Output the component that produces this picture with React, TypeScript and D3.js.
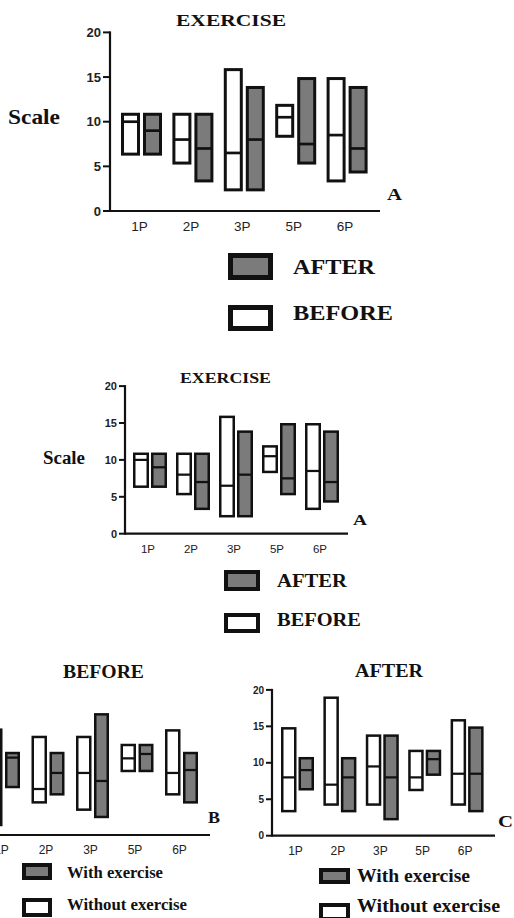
import React from "react";
import * as d3 from "d3";

// ---------- data ----------
const categories = ["1P", "2P", "3P", "5P", "6P"];
const yTickValues = [0, 5, 10, 15, 20];

// Panel A (shown twice): exercise group, before vs after
const exBeforeLow = [6.2, 5.2, 2.2, 8.2, 3.2];
const exBeforeHigh = [11, 11, 16, 12, 15];
const exBeforeMed = [10, 8, 6.5, 10.5, 8.5];
const exAfterLow = [6.2, 3.2, 2.2, 5.2, 4.2];
const exAfterHigh = [11, 11, 14, 15, 14];
const exAfterMed = [9, 7, 8, 7.5, 7];

// Panel B: BEFORE — without exercise (white) vs with exercise (grey)
const bWithoutLow = [1.2, 4.3, 3.3, 8.6, 5.4];
const bWithoutHigh = [14.6, 13.6, 13.6, 12.5, 14.5];
const bWithoutMed = [8.5, 6.3, 8.5, 10.5, 8.5];
const bWithLow = [6.4, 5.4, 2.3, 8.6, 4.3];
const bWithHigh = [11.4, 11.4, 16.7, 12.5, 11.4];
const bWithMed = [10.6, 8.5, 7.4, 11.1, 8.9];

// Panel C: AFTER — without exercise (white) vs with exercise (grey)
const cWithoutLow = [3.2, 4.1, 4.1, 6.1, 4.1];
const cWithoutHigh = [14.9, 19.1, 13.9, 11.8, 16];
const cWithoutMed = [8, 7, 9.5, 8, 8.5];
const cWithLow = [6.2, 3.2, 2.1, 8.2, 3.2];
const cWithHigh = [10.8, 10.8, 13.9, 11.8, 15];
const cWithMed = [9, 8, 8, 10.5, 8.5];

const GREY = "#7b7b7b";
const INK = "#111";
const SERIF = "'Liberation Serif', 'Times New Roman', serif";
const SANS = "'Liberation Sans', Arial, sans-serif";

type Series = { low: number[]; high: number[]; med: number[]; fill: string; off: [number, number] };

type PanelProps = {
  axisX: number;
  zeroY: number;
  unit: number;
  xEnd: number;
  firstC: number;
  step: number;
  sw: number;
  tickFont: number;
  catFont: number;
  catBaseline: number;
  tickLen: number;
  showY: boolean;
  series: Series[];
};

function Panel(p: PanelProps) {
  const y = d3.scaleLinear().domain([0, 20]).range([p.zeroY, p.zeroY - 20 * p.unit]);
  const x = d3
    .scalePoint<string>()
    .domain(categories)
    .range([p.firstC, p.firstC + p.step * (categories.length - 1)]);
  const h = p.sw / 2;
  return (
    <g>
      {p.showY && (
        <g>
          <line x1={p.axisX} x2={p.axisX} y1={y(0) + 1} y2={y(20) - 1} stroke={INK} strokeWidth={2.2} />
          {yTickValues.map((t) => (
            <g key={t}>
              <line x1={p.axisX - p.tickLen} x2={p.axisX} y1={y(t)} y2={y(t)} stroke={INK} strokeWidth={2} />
              <text
                x={p.axisX - p.tickLen - 2}
                y={y(t)}
                dy="0.36em"
                textAnchor="end"
                fontFamily={SANS}
                fontWeight="bold"
                fontSize={p.tickFont}
                fill="#222"
              >
                {t}
              </text>
            </g>
          ))}
        </g>
      )}
      {/* x axis */}
      <line x1={Math.max(p.axisX, 0)} x2={p.xEnd} y1={y(0)} y2={y(0)} stroke={INK} strokeWidth={2.2} />
      {categories.map((c) => (
        <text
          key={c}
          x={x(c)! - 2}
          y={p.catBaseline}
          textAnchor="middle"
          fontFamily={SANS}
          fontSize={p.catFont}
          fill="#222"
        >
          {c}
        </text>
      ))}
      {/* boxes */}
      {p.series.map((s, si) =>
        categories.map((c, i) => {
          const cx = x(c)!;
          const L = cx + s.off[0];
          const R = cx + s.off[1];
          const top = y(s.high[i]);
          const bot = y(s.low[i]);
          return (
            <g key={si + "-" + c}>
              <rect
                x={L + h}
                y={top + h}
                width={R - L - p.sw}
                height={bot - top - p.sw}
                fill={s.fill}
                stroke={INK}
                strokeWidth={p.sw}
              />
              <line x1={L + h} x2={R - h} y1={y(s.med[i])} y2={y(s.med[i])} stroke={INK} strokeWidth={p.sw * 0.9} />
            </g>
          );
        })
      )}
    </g>
  );
}

function T(props: {
  x: number;
  y: number;
  w?: number;
  size: number;
  children: React.ReactNode;
}) {
  return (
    <text
      x={props.x}
      y={props.y}
      fontFamily={SERIF}
      fontWeight="bold"
      fontSize={props.size}
      fill="#111"
      textLength={props.w}
      lengthAdjust={props.w ? "spacingAndGlyphs" : undefined}
    >
      {props.children}
    </text>
  );
}

function Box(props: { x0: number; x1: number; y0: number; y1: number; sw: number; fill: string }) {
  const h = props.sw / 2;
  return (
    <rect
      x={props.x0 + h}
      y={props.y0 + h}
      width={props.x1 - props.x0 - props.sw}
      height={props.y1 - props.y0 - props.sw}
      fill={props.fill}
      stroke={INK}
      strokeWidth={props.sw}
    />
  );
}

export default function App() {
  const exSeries = (off1: [number, number], off2: [number, number]): Series[] => [
    { low: exBeforeLow, high: exBeforeHigh, med: exBeforeMed, fill: "#fff", off: off1 },
    { low: exAfterLow, high: exAfterHigh, med: exAfterMed, fill: GREY, off: off2 },
  ];
  return (
    <svg
      width={514}
      height={918}
      viewBox="0 0 514 918"
      style={{ position: "absolute", left: 0, top: 0, background: "#fff", overflow: "hidden" }}
    >
      <rect x={0} y={0} width={514} height={918} fill="#fff" />

      {/* ===== Panel A (large) ===== */}
      <T x={176} y={26} w={110} size={17}>EXERCISE</T>
      <T x={8} y={124} w={52} size={21}>Scale</T>
      <T x={387} y={200} w={15} size={16}>A</T>
      <Panel
        axisX={110}
        zeroY={211}
        unit={8.93}
        xEnd={380}
        firstC={141.5}
        step={51.4}
        sw={3}
        tickFont={13}
        catFont={13.5}
        catBaseline={231}
        tickLen={7}
        showY={true}
        series={exSeries([-20.5, -1.5], [1.5, 20.5])}
      />
      <Box x0={228} x1={273} y0={253} y1={280} sw={5} fill={GREY} />
      <T x={293} y={274} w={82} size={22}>AFTER</T>
      <Box x0={228} x1={273} y0={305} y1={331} sw={5} fill="#fff" />
      <T x={293} y={320} w={100} size={22}>BEFORE</T>

      {/* ===== Panel A (small copy) ===== */}
      <T x={180} y={383} w={91} size={14.5}>EXERCISE</T>
      <T x={43} y={464} w={42} size={18}>Scale</T>
      <T x={353} y={525} w={14} size={15}>A</T>
      <Panel
        axisX={125}
        zeroY={533.7}
        unit={7.38}
        xEnd={348}
        firstC={150}
        step={43}
        sw={2.5}
        tickFont={11}
        catFont={11.5}
        catBaseline={553}
        tickLen={6}
        showY={true}
        series={exSeries([-17, -1], [1, 17])}
      />
      <Box x0={224} x1={260} y0={570} y1={591} sw={4} fill={GREY} />
      <T x={277} y={587} w={70} size={19}>AFTER</T>
      <Box x0={224} x1={260} y0={613} y1={633} sw={4} fill="#fff" />
      <T x={277} y={626} w={84} size={19}>BEFORE</T>

      {/* ===== Panel B (cropped at left; its y axis lies outside the frame) ===== */}
      <T x={63} y={678} w={81} size={18.5}>BEFORE</T>
      <T x={208} y={823} w={12} size={17}>B</T>
      <Panel
        axisX={-23}
        zeroY={835}
        unit={7.3}
        xEnd={210}
        firstC={3.5}
        step={44.5}
        sw={2.5}
        tickFont={10}
        catFont={12}
        catBaseline={854}
        tickLen={6}
        showY={false}
        series={[
          { low: bWithoutLow, high: bWithoutHigh, med: bWithoutMed, fill: "#fff", off: [-16.5, -1] },
          { low: bWithLow, high: bWithHigh, med: bWithMed, fill: GREY, off: [1.5, 16.5] },
        ]}
      />
      <Box x0={22} x1={52} y0={863} y1={880} sw={4} fill={GREY} />
      <T x={67} y={878} w={96} size={17}>With exercise</T>
      <Box x0={22} x1={52} y0={898} y1={917} sw={4} fill="#fff" />
      <T x={67} y={910} w={120} size={17}>Without exercise</T>

      {/* ===== Panel C ===== */}
      <T x={355} y={677} w={68} size={18.5}>AFTER</T>
      <T x={498} y={827} w={15} size={17}>C</T>
      <Panel
        axisX={272}
        zeroY={835.7}
        unit={7.29}
        xEnd={495}
        firstC={297.5}
        step={42.4}
        sw={2.5}
        tickFont={10}
        catFont={12}
        catBaseline={855}
        tickLen={6}
        showY={true}
        series={[
          { low: cWithoutLow, high: cWithoutHigh, med: cWithoutMed, fill: "#fff", off: [-16.5, -1] },
          { low: cWithLow, high: cWithHigh, med: cWithMed, fill: GREY, off: [1, 16.5] },
        ]}
      />
      <Box x0={319} x1={350} y0={868} y1={884} sw={4} fill={GREY} />
      <T x={357} y={882} w={113} size={18}>With exercise</T>
      <Box x0={319} x1={350} y0={903} y1={921} sw={4} fill="#fff" />
      <T x={357} y={912} w={143} size={18}>Without exercise</T>
    </svg>
  );
}
